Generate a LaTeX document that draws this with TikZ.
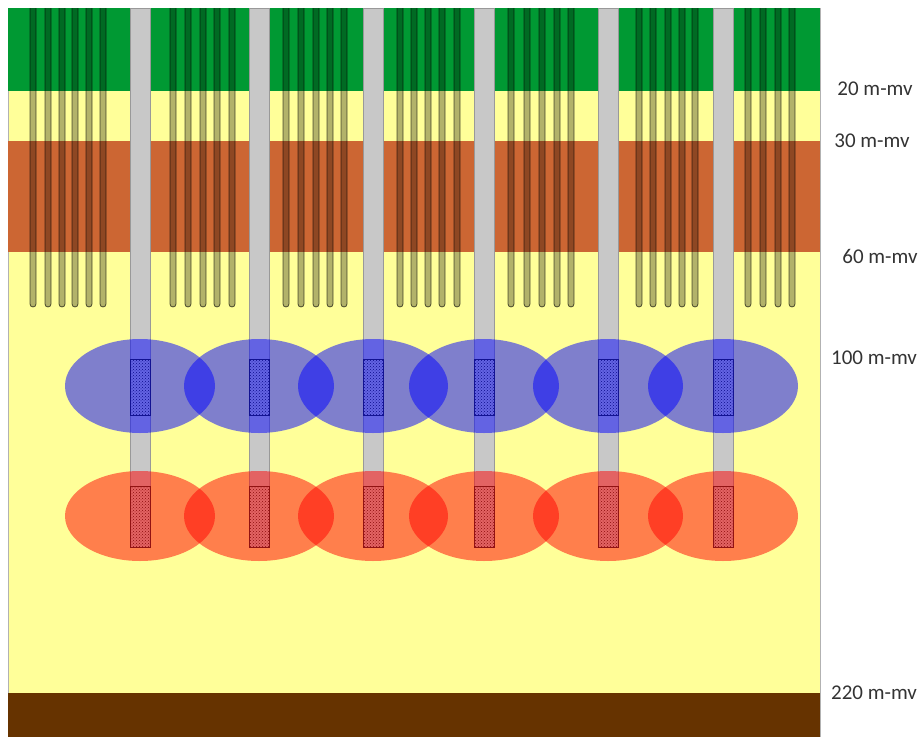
\documentclass[tikz,border=0pt]{standalone}
\usepackage{fontspec}
\setmainfont{Carlito}
\usepackage{tikz}
\usetikzlibrary{patterns}

\definecolor{topsoil}{RGB}{0,153,51}
\definecolor{sand}{RGB}{255,255,153}
\definecolor{clay}{RGB}{204,102,51}
\definecolor{basis}{RGB}{102,51,0}
\definecolor{pipegray}{RGB}{200,200,200}

\begin{document}
\begin{tikzpicture}[x=1pt, y=-1pt]
\useasboundingbox (0,0) rectangle (922,737);
\tikzset{
  tube/.style={draw=black, line width=0.8pt, draw opacity=0.65, fill=black, fill opacity=0.3, rounded corners=3pt},
  well/.style={fill=pipegray, draw=black!40, line width=0.5pt},
  screen/.style={draw=black!85, line width=0.7pt, pattern=crosshatch dots, pattern color=black!90},
  cold/.style={fill=blue, fill opacity=0.5},
  warm/.style={fill=red, fill opacity=0.5},
  depth/.style={font=\fontsize{21}{24}\selectfont, text=black!80}
}
\def\Lus#1{
\draw[tube] (#1-3,8) -- (#1-3,307) -- (#1+3,307) -- (#1+3,8);
}

% soil layers
\draw[fill=sand, draw=black!30, line width=0.6pt] (8,8) rectangle (820,737);
\fill[topsoil] (8,8) rectangle (820,91);
\fill[clay] (8,141) rectangle (820,252);
\fill[basis] (8,693) rectangle (820,737);

% closed loops
\foreach \x in {33,48,62,75,89,103, 173,188,203,217,232, 286,301,316,330,344,
                400,414,428,442,457, 511,527,542,557,571, 639,653,668,682,695,
                748,763,778,792}
  {\Lus{\x}}

% wells with screens and their storage bubbles
\foreach \x in {140,259,373,484,608,723}
  {
    \draw[well] (\x-10,8) rectangle (\x+10,547);
    \draw[screen] (\x-10,359) rectangle (\x+10,415);
    \draw[screen] (\x-10,486) rectangle (\x+10,547);
  }
\foreach \x in {140,259,373,484,608,723}
  {
    \fill[cold] (\x,386) ellipse [x radius=75, y radius=47];
    \fill[warm] (\x,516) ellipse [x radius=75, y radius=45];
  }

\node[depth] (d20) at (875,89) {20 m-mv};
\node[depth] (d30) at (872,141) {30 m-mv};
\node[depth] (d60) at (880,256) {60 m-mv};
\node[depth] (d100) at (874,358) {100 m-mv};
\node[depth] (d220) at (874,693) {220 m-mv};
\end{tikzpicture}
\end{document}
